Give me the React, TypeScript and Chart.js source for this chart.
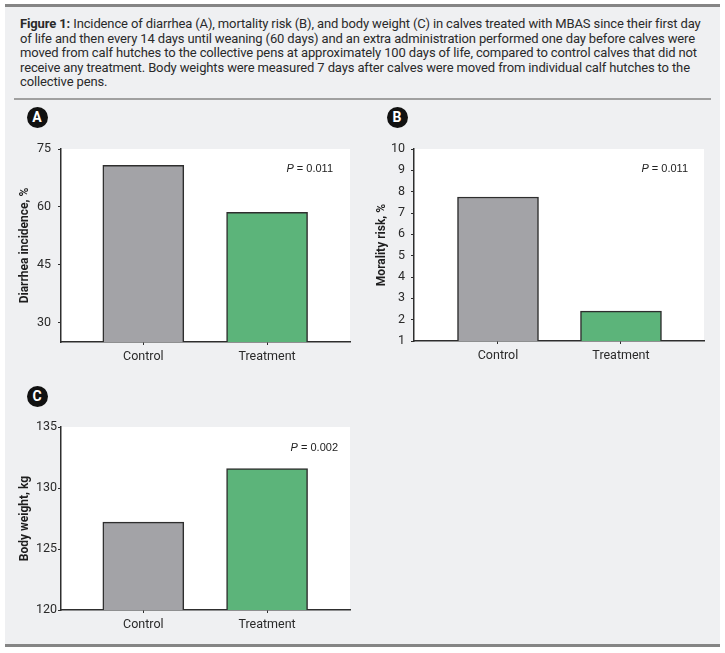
import React, { useEffect, useRef } from "react";
import { Chart, registerables } from "chart.js";

Chart.register(...registerables);

// Groups shared by all three panels
const categories = ["Control", "Treatment"];

// A: diarrhea incidence, %
const diarrheaIncidence = [70.8, 58.6];
const diarrheaTicks = [30, 45, 60, 75];

// B: mortality risk, %
const mortalityRisk = [7.75, 2.4];
const mortalityTicks = [1, 2, 3, 4, 5, 6, 7, 8, 9, 10];

// C: body weight, kg
const bodyWeight = [127.2, 131.6];
const weightTicks = [120, 125, 130, 135];

const pValues = ["0.011", "0.011", "0.002"];

const barColors = ["#a3a3a7", "#5cb47a"];
const axisColor = "#2e2e2e";
const textColor = "#2a2a2a";
const tickFont = { family: "Roboto, 'Noto Sans', sans-serif", size: 12.5 };

type PanelProps = {
  values: number[];
  yMin: number;
  yMax: number;
  yTicks: number[];
  yTitle: string;
  pValue: string;
  left: number;
  top: number;
  width: number;
  height: number;
  yAxisWidth: number;
  xAxisHeight: number;
  padTop: number;
  padRight: number;
  titlePad: number;
  tickPad: number;
  xMin: number;
  xMax: number;
  pRight: number;
  pTop: number;
};

function BarPanel(props: PanelProps) {
  const ref = useRef<HTMLCanvasElement | null>(null);

  useEffect(() => {
    const canvas = ref.current;
    if (!canvas) return;

    const plotBackground = {
      id: "plotBackground",
      beforeDraw(chart: any) {
        const { ctx, chartArea } = chart;
        ctx.save();
        ctx.fillStyle = "#ffffff";
        ctx.fillRect(chartArea.left, chartArea.top, chartArea.right - chartArea.left, chartArea.bottom - chartArea.top);
        ctx.restore();
      },
    };

    const pLabel = {
      id: "pLabel",
      afterDraw(chart: any) {
        const { ctx, chartArea } = chart;
        const rest = " = " + props.pValue;
        const regular = "11px 'Liberation Sans', Arial, sans-serif";
        const italic = "italic 11px 'Liberation Sans', Arial, sans-serif";
        ctx.save();
        ctx.fillStyle = "#222222";
        ctx.textBaseline = "middle";
        ctx.font = regular;
        const restW = ctx.measureText(rest).width;
        ctx.font = italic;
        const pW = ctx.measureText("P").width;
        const x = chartArea.right - props.pRight - restW - pW;
        const y = chartArea.top + props.pTop;
        ctx.textAlign = "left";
        ctx.fillText("P", x, y);
        ctx.font = regular;
        ctx.fillText(rest, x + pW, y);
        ctx.restore();
      },
    };

    const chart = new Chart(canvas, {
      type: "bar",
      data: {
        datasets: [
          {
            data: props.values.map((v, i) => ({ x: i, y: v })),
            backgroundColor: barColors,
            borderColor: axisColor,
            borderWidth: 1.5,
            barThickness: 81,
          },
        ],
      },
      options: {
        animation: false,
        responsive: false,
        maintainAspectRatio: false,
        layout: { padding: { top: props.padTop, right: props.padRight, left: 0, bottom: 0 } },
        plugins: { legend: { display: false }, tooltip: { enabled: false } },
        scales: {
          x: {
            type: "linear",
            min: props.xMin,
            max: props.xMax,
            offset: false,
            afterBuildTicks: (s: any) => {
              s.ticks = categories.map((_, i) => ({ value: i }));
            },
            afterFit: (s: any) => {
              s.height = props.xAxisHeight;
              s.paddingLeft = 0;
              s.paddingRight = 0;
            },
            ticks: {
              callback: (v: any) => categories[v as number],
              font: tickFont,
              color: textColor,
              padding: 4,
              autoSkip: false,
              maxRotation: 0,
            },
            grid: {
              offset: false,
              drawOnChartArea: false,
              drawTicks: true,
              tickLength: 3,
              color: axisColor,
              lineWidth: 1,
            },
            border: { display: true, color: axisColor, width: 1.5 },
          },
          y: {
            min: props.yMin,
            max: props.yMax,
            afterBuildTicks: (s: any) => {
              s.ticks = props.yTicks.map((v) => ({ value: v }));
            },
            afterFit: (s: any) => {
              s.width = props.yAxisWidth;
              s.paddingTop = 0;
              s.paddingBottom = 0;
            },
            ticks: { font: tickFont, color: textColor, padding: props.tickPad },
            grid: { drawOnChartArea: false, drawTicks: true, tickLength: 3, color: axisColor, lineWidth: 1 },
            border: { display: true, color: axisColor, width: 1.5 },
            title: {
              display: true,
              text: props.yTitle,
              color: "#1e1e1e",
              font: { family: "Roboto, 'Noto Sans', sans-serif", size: 12, weight: "bold" },
              padding: { top: props.titlePad, bottom: 0 },
            },
          },
        },
      },
      plugins: [plotBackground, pLabel],
    } as any);

    return () => chart.destroy();
  }, []);

  return (
    <canvas
      ref={ref}
      width={props.width}
      height={props.height}
      style={{ position: "absolute", left: props.left, top: props.top, width: props.width, height: props.height }}
    />
  );
}

function Badge({ letter, x, y }: { letter: string; x: number; y: number }) {
  return (
    <div
      style={{
        position: "absolute",
        left: x - 10.5,
        top: y - 10.5,
        width: 21,
        height: 21,
        borderRadius: "50%",
        background: "#111111",
        color: "#ffffff",
        fontFamily: "Roboto, sans-serif",
        fontWeight: 700,
        fontSize: 14,
        lineHeight: "21px",
        textAlign: "center",
      }}
    >
      {letter}
    </div>
  );
}

const captionLines = [
  "Incidence of diarrhea (A), mortality risk (B), and body weight (C) in calves treated with MBAS since their first day",
  "of life and then every 14 days until weaning (60 days) and an extra administration performed one day before calves were",
  "moved from calf hutches to the collective pens at approximately 100 days of life, compared to control calves that did not",
  "receive any treatment. Body weights were measured 7 days after calves were moved from individual calf hutches to the",
  "collective pens.",
];

export default function App() {
  return (
    <div
      style={{
        position: "absolute",
        left: 0,
        top: 0,
        width: 725,
        height: 653,
        background: "#ffffff",
        overflow: "hidden",
      }}
    >
      <div style={{ position: "absolute", left: 5, top: 7, width: 715, height: 638, background: "#eff0f2" }} />
      <div style={{ position: "absolute", left: 5, top: 4, width: 715, height: 3, background: "#858585" }} />
      <div style={{ position: "absolute", left: 5, top: 644, width: 715, height: 3, background: "#858585" }} />
      <div style={{ position: "absolute", left: 14, top: 98, width: 697, height: 1.5, background: "#a0a0a0" }} />

      <div
        style={{
          position: "absolute",
          left: 20,
          top: 17,
          fontFamily: "Roboto, 'Noto Sans', sans-serif",
          fontSize: 13,
          letterSpacing: "-0.13px",
          lineHeight: "14.6px",
          color: "#2a2a2a",
          whiteSpace: "nowrap",
        }}
      >
        {captionLines.map((line, i) => (
          <div key={i}>
            {i === 0 ? <b>Figure 1: </b> : null}
            {line}
          </div>
        ))}
      </div>

      <Badge letter="A" x={37} y={117} />
      <Badge letter="B" x={397} y={117} />
      <Badge letter="C" x={37} y={396} />

      <BarPanel
        values={diarrheaIncidence}
        yMin={25}
        yMax={75}
        yTicks={diarrheaTicks}
        yTitle="Diarrhea incidence, %"
        pValue={pValues[0]}
        left={10}
        top={140}
        width={345}
        height={225}
        yAxisWidth={51}
        xAxisHeight={23}
        padTop={9}
        padRight={5}
        titlePad={7.8}
        tickPad={7}
        xMin={-0.665}
        xMax={1.67}
        pRight={17}
        pTop={20}
      />
      <BarPanel
        values={mortalityRisk}
        yMin={1}
        yMax={10}
        yTicks={mortalityTicks}
        yTitle="Morality risk, %"
        pValue={pValues[1]}
        left={370}
        top={140}
        width={340}
        height={225}
        yAxisWidth={44}
        xAxisHeight={24}
        padTop={9}
        padRight={6}
        titlePad={4.8}
        tickPad={6}
        xMin={-0.683}
        xMax={1.675}
        pRight={16}
        pTop={20}
      />
      <BarPanel
        values={bodyWeight}
        yMin={120}
        yMax={135}
        yTicks={weightTicks}
        yTitle="Body weight, kg"
        pValue={pValues[2]}
        left={10}
        top={418}
        width={345}
        height={225}
        yAxisWidth={51}
        xAxisHeight={33}
        padTop={9}
        padRight={5}
        titlePad={7.8}
        tickPad={1}
        xMin={-0.665}
        xMax={1.67}
        pRight={12}
        pTop={21}
      />
    </div>
  );
}
